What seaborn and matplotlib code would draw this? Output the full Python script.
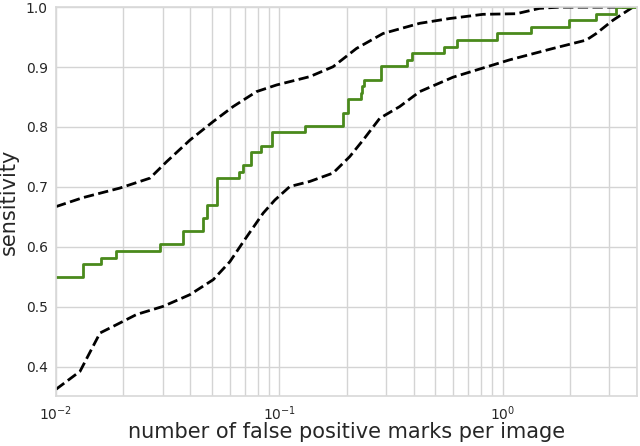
import numpy as np
import pandas as pd
import matplotlib
matplotlib.use("Agg")
import matplotlib.pyplot as plt
import seaborn as sns

# -----------------------------
# Data
# -----------------------------
# FROC step curve (false positives per image, sensitivity)
froc_fp = [0.0095, 0.01324, 0.0159, 0.01855, 0.0292, 0.0371, 0.0453, 0.0475,
           0.0528, 0.0661, 0.0689, 0.0743, 0.0826, 0.0925, 0.1304, 0.1919,
           0.2032, 0.2333, 0.2356, 0.2386, 0.2844, 0.3747, 0.3927, 0.5445,
           0.6246, 0.943, 1.343, 1.98, 2.625, 3.227, 4.2]
froc_sens = [0.549, 0.571, 0.582, 0.593, 0.604, 0.626, 0.648, 0.670,
             0.714, 0.725, 0.736, 0.758, 0.769, 0.791, 0.802, 0.824,
             0.846, 0.857, 0.868, 0.879, 0.901, 0.912, 0.923, 0.934,
             0.945, 0.956, 0.967, 0.978, 0.989, 1.0, 1.0]

# upper confidence bound
upper_fp = [0.01, 0.01321, 0.01934, 0.02634, 0.03129, 0.03977, 0.05057, 0.0621,
            0.0791, 0.0971, 0.1369, 0.174, 0.2215, 0.2914, 0.4253, 0.5794,
            0.8166, 1.152, 1.464, 1.799, 4.0]
upper_sens = [0.667, 0.682, 0.698, 0.7145, 0.742, 0.778, 0.809, 0.834,
              0.859, 0.870, 0.884, 0.9005, 0.931, 0.956, 0.973, 0.981,
              0.988, 0.989, 0.998, 1.0, 1.0]

# lower confidence bound
lower_fp = [0.01, 0.01281, 0.01574, 0.01869, 0.02297, 0.0302, 0.03977, 0.05057,
            0.06004, 0.07006, 0.0846, 0.0955, 0.1114, 0.1369, 0.174, 0.2067,
            0.2371, 0.2817, 0.3459, 0.4253, 0.5993, 0.7627, 1.075, 1.679,
            2.369, 2.625, 3.115, 3.828]
lower_sens = [0.362, 0.392, 0.456, 0.470, 0.487, 0.5005, 0.520, 0.545,
              0.575, 0.612, 0.656, 0.678, 0.7005, 0.709, 0.723, 0.7505,
              0.778, 0.8145, 0.834, 0.859, 0.883, 0.895, 0.912, 0.931,
              0.945, 0.956, 0.978, 1.0]

# -----------------------------
# Plot
# -----------------------------
sns.set_theme(style="whitegrid")
plt.rcParams["font.family"] = ["DejaVu Sans"]

fig = plt.figure(figsize=(6.4, 4.46), dpi=100)
ax = fig.add_axes([0.0875, 0.111, 0.908, 0.873])

sns.lineplot(x=lower_fp, y=lower_sens, ax=ax, color="black", lw=2,
             linestyle="--", sort=False, estimator=None)
sns.lineplot(x=upper_fp, y=upper_sens, ax=ax, color="black", lw=2,
             linestyle="--", sort=False, estimator=None)
sns.lineplot(x=froc_fp, y=froc_sens, ax=ax, color="#4a8a1c", lw=2,
             drawstyle="steps-post", sort=False, estimator=None)

ax.set_xscale("log")
ax.set_xlim(0.01, 4.0)
ax.set_ylim(0.35, 1.0)
ax.set_yticks([0.4, 0.5, 0.6, 0.7, 0.8, 0.9, 1.0])
ax.grid(which="major", color=".83", lw=1)
ax.grid(which="minor", axis="x", color=".83", lw=1)
ax.tick_params(axis="both", which="both", labelsize=10, length=0, pad=6)
for s in ax.spines.values():
    s.set_color(".85")

ax.set_xlabel("number of false positive marks per image", fontsize=15, labelpad=-1)
ax.set_ylabel("sensitivity", fontsize=15, labelpad=5)

fig.savefig("out.png", dpi=100)
